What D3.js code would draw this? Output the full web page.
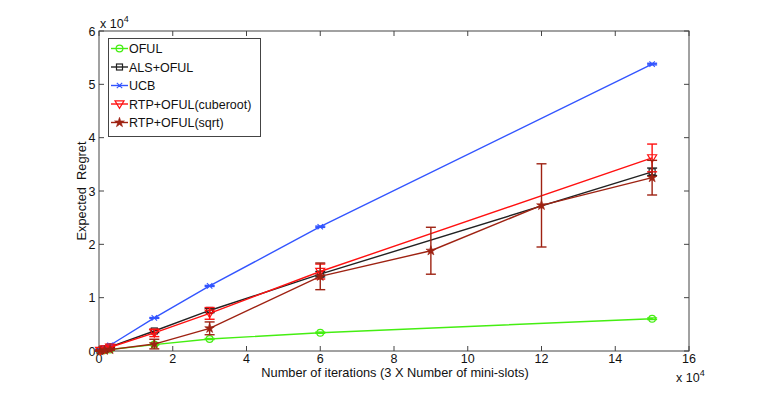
<!DOCTYPE html>
<html>
<head>
<meta charset="utf-8">
<script src="https://cdn.jsdelivr.net/npm/d3@7"></script>
<style>
  body { margin: 0; background: #fff; }
  text { font-family: "Liberation Sans", Arial, sans-serif; }
</style>
</head>
<body>
<script>
// iterations (x axis)
var xIter = [300, 1500, 3000, 15000, 30000, 60000, 150000];
var xSqrt = [300, 1500, 3000, 15000, 30000, 60000, 90000, 120000, 150000];

// expected regret per algorithm, with error bar half-widths
var oful      = [30, 150, 280, 1200, 2250, 3430, 6050];
var ofulErr   = [10, 20, 30, 80, 100, 120, 150];
var als       = [80, 390, 770, 3750, 7600, 14400, 33600];
var alsErr    = [20, 60, 100, 300, 400, 500, 700];
var ucb       = [110, 540, 1080, 6200, 12200, 23300, 53800];
var ucbErr    = [10, 20, 30, 80, 100, 120, 150];
var cuberoot    = [70, 350, 700, 3400, 7050, 14900, 36200];
var cuberootErr = [30, 100, 200, 700, 1100, 1400, 2600];
var sqrtR     = [30, 130, 260, 1300, 4250, 14000, 18800, 27300, 32500];
var sqrtErr   = [20, 60, 120, 900, 1200, 2500, 4400, 7800, 3250];

var xTicks = [0, 20000, 40000, 60000, 80000, 100000, 120000, 140000, 160000];
var yTicks = [0, 10000, 20000, 30000, 40000, 50000, 60000];

var series = [
  {name: "OFUL", x: xIter, y: oful, e: ofulErr, color: "#44ee11", marker: "circle"},
  {name: "ALS+OFUL", x: xIter, y: als, e: alsErr, color: "#222222", marker: "square"},
  {name: "UCB", x: xIter, y: ucb, e: ucbErr, color: "#3355ff", marker: "asterisk"},
  {name: "RTP+OFUL(cuberoot)", x: xIter, y: cuberoot, e: cuberootErr, color: "#ff1010", marker: "triangle"},
  {name: "RTP+OFUL(sqrt)", x: xSqrt, y: sqrtR, e: sqrtErr, color: "#9e2212", marker: "star"}
];

var W = 764, H = 395;
var pLeft = 99, pRight = 689, pTop = 31, pBottom = 351;
var axisColor = "#444";

var svg = d3.select("body").append("svg")
  .attr("width", W).attr("height", H);

var x = d3.scaleLinear().domain([0, 160000]).range([pLeft, pRight]);
var y = d3.scaleLinear().domain([0, 60000]).range([pBottom, pTop]);

// box
svg.append("rect")
  .attr("x", pLeft).attr("y", pTop)
  .attr("width", pRight - pLeft).attr("height", pBottom - pTop)
  .attr("fill", "none").attr("stroke", axisColor).attr("stroke-width", 1);

// ticks inward on all four sides
var tl = 5;
xTicks.forEach(function(t) {
  svg.append("line").attr("x1", x(t)).attr("x2", x(t)).attr("y1", pBottom).attr("y2", pBottom - tl)
    .attr("stroke", axisColor);
  svg.append("line").attr("x1", x(t)).attr("x2", x(t)).attr("y1", pTop).attr("y2", pTop + tl)
    .attr("stroke", axisColor);
  svg.append("text").attr("x", x(t)).attr("y", pBottom + 12)
    .attr("text-anchor", "middle").attr("font-size", 12.5).attr("fill", "#111")
    .text(t / 10000);
});
yTicks.forEach(function(t) {
  svg.append("line").attr("x1", pLeft).attr("x2", pLeft + tl).attr("y1", y(t)).attr("y2", y(t))
    .attr("stroke", axisColor);
  svg.append("line").attr("x1", pRight).attr("x2", pRight - tl).attr("y1", y(t)).attr("y2", y(t))
    .attr("stroke", axisColor);
  svg.append("text").attr("x", pLeft - 3.5).attr("y", y(t) + 4.5)
    .attr("text-anchor", "end").attr("font-size", 12.5).attr("fill", "#111")
    .text(t / 10000);
});

// exponent labels
var ex1 = svg.append("text").attr("x", 100).attr("y", 28).attr("font-size", 12.5).attr("fill", "#111");
ex1.append("tspan").text("x 10");
ex1.append("tspan").attr("dy", -6).attr("font-size", 9).text("4");
var ex2 = svg.append("text").attr("x", 676).attr("y", 382).attr("font-size", 12.5).attr("fill", "#111");
ex2.append("tspan").text("x 10");
ex2.append("tspan").attr("dy", -6).attr("font-size", 9).text("4");

// axis titles
svg.append("text").attr("x", 395).attr("y", 377)
  .attr("text-anchor", "middle").attr("font-size", 12.8).attr("fill", "#111")
  .text("Number of iterations (3 X Number of mini-slots)");
svg.append("text").attr("transform", "translate(86," + ((pTop + pBottom) / 2) + ") rotate(-90)")
  .attr("text-anchor", "middle").attr("font-size", 12.8).attr("fill", "#111")
  .style("white-space", "pre")
  .text("Expected  Regret");

function drawMarker(g, type, cx, cy, color) {
  if (type == "circle") {
    g.append("circle").attr("cx", cx).attr("cy", cy).attr("r", 3.4)
      .attr("fill", "none").attr("stroke", color).attr("stroke-width", 1.2);
  } else if (type == "square") {
    g.append("rect").attr("x", cx - 3).attr("y", cy - 3).attr("width", 6).attr("height", 6)
      .attr("fill", "none").attr("stroke", color).attr("stroke-width", 1.2);
  } else if (type == "asterisk") {
    var s = 3.8, d = 2.7;
    var p = "M" + (cx - s) + "," + cy + "H" + (cx + s) +
            "M" + (cx - d) + "," + (cy - d) + "L" + (cx + d) + "," + (cy + d) +
            "M" + (cx - d) + "," + (cy + d) + "L" + (cx + d) + "," + (cy - d);
    g.append("path").attr("d", p).attr("stroke", color).attr("stroke-width", 1.1).attr("fill", "none");
  } else if (type == "triangle") {
    g.append("path").attr("d", "M" + (cx - 4.5) + "," + (cy - 3.2) + "L" + (cx + 4.5) + "," + (cy - 3.2) + "L" + cx + "," + (cy + 4.3) + "Z")
      .attr("fill", "none").attr("stroke", color).attr("stroke-width", 1.2);
  } else if (type == "star") {
    g.append("path").attr("d", d3.symbol(d3.symbolStar, 30)())
      .attr("transform", "translate(" + cx + "," + cy + ")")
      .attr("fill", color).attr("stroke", color).attr("stroke-width", 0.6);
  }
}

var line = d3.line().x(function(d) { return x(d[0]); }).y(function(d) { return y(d[1]); });
var cap = 5;

series.forEach(function(s) {
  var g = svg.append("g");
  var pts = s.x.map(function(v, i) { return [v, s.y[i], s.e[i]]; });
  g.append("path").datum(pts).attr("d", line)
    .attr("fill", "none").attr("stroke", s.color).attr("stroke-width", 1.4);
  pts.forEach(function(p) {
    var px = x(p[0]), y0 = y(p[1] - p[2]), y1 = y(p[1] + p[2]);
    g.append("line").attr("x1", px).attr("x2", px).attr("y1", y0).attr("y2", y1)
      .attr("stroke", s.color).attr("stroke-width", 1.4);
    [y0, y1].forEach(function(yy) {
      g.append("line").attr("x1", px - cap).attr("x2", px + cap).attr("y1", yy).attr("y2", yy)
        .attr("stroke", s.color).attr("stroke-width", 1.4);
    });
    drawMarker(g, s.marker, px, y(p[1]), s.color);
  });
});

// legend
var lg = svg.append("g");
lg.append("rect").attr("x", 108.5).attr("y", 38.5).attr("width", 152).attr("height", 98)
  .attr("fill", "#fff").attr("stroke", axisColor);
series.forEach(function(s, i) {
  var ly = 48.5 + i * 18.5;
  lg.append("line").attr("x1", 111).attr("x2", 128).attr("y1", ly).attr("y2", ly)
    .attr("stroke", s.color).attr("stroke-width", 1.4);
  drawMarker(lg, s.marker, 119.5, ly, s.color);
  lg.append("text").attr("x", 129).attr("y", ly + 4.5).attr("font-size", 12.5).attr("fill", "#111")
    .text(s.name);
});
</script>
</body>
</html>
